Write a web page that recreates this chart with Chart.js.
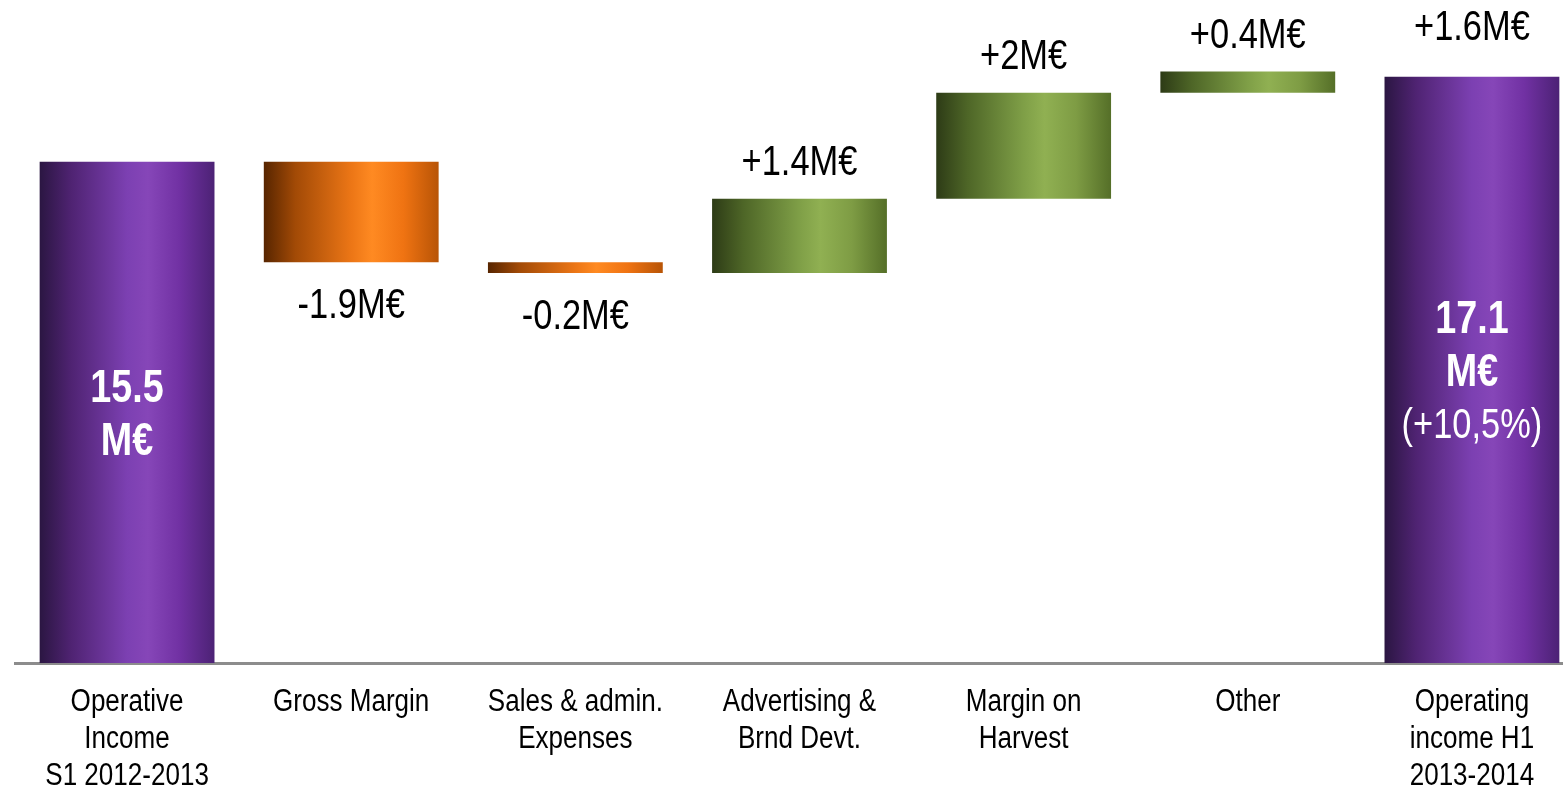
<!DOCTYPE html>
<html>
<head>
<meta charset="utf-8">
<script src="https://cdn.jsdelivr.net/npm/chart.js@4.4.1/dist/chart.umd.min.js"></script>
<style>
  html, body { margin: 0; padding: 0; background: #fff; overflow: hidden; }
  #wrap { position: relative; width: 1590px; height: 790px; }
</style>
</head>
<body>
<div id="wrap"><canvas id="bridge"></canvas></div>
<script>
// Operating income bridge, H1 2012-2013 -> H1 2013-2014 (M€)

const categories = [
  ['Operative', 'Income', 'S1 2012-2013'],
  ['Gross Margin'],
  ['Sales & admin.', 'Expenses'],
  ['Advertising &', 'Brnd Devt.'],
  ['Margin on', 'Harvest'],
  ['Other'],
  ['Operating', 'income H1', '2013-2014']
];

// 'total' bars stand on the axis, 'step' bars float on the running sum
const barKinds = ['total', 'step', 'step', 'step', 'step', 'step', 'total'];
const amounts = [15.5, -1.9, -0.2, 1.4, 2, 0.4, 17.1];
const growthNote = '(+10,5%)';

// No narrow face installed, so Arial-metric text is squeezed horizontally
const FONT = '"Liberation Sans", Arial, sans-serif';
const NARROW = 0.82;

// Horizontal sheen: dark on the left edge, brightest a bit right of centre
const palettes = {
  total: ['#2b1642', '#4f2372', '#7c40b2', '#8646b8', '#7131a3', '#4c2275'],
  down:  ['#572500', '#a24a06', '#ec7616', '#ff8a22', '#ef7312', '#b85406'],
  up:    ['#2d3b16', '#4e6627', '#7f9f47', '#90b052', '#7e9c44', '#556f28']
};
const stops = [0, 0.18, 0.5, 0.62, 0.8, 1];

// Build floating ranges from the amounts
const ranges = [];
let running = 0;
amounts.forEach((v, i) => {
  if (barKinds[i] === 'total') {
    ranges.push([0, v]);
    running = v;
  } else {
    ranges.push([running, running + v]);
    running += v;
  }
});

const BAR_PCT = 0.78;

function barFill(ctx) {
  const chart = ctx.chart;
  const xs = chart.scales.x;
  const i = ctx.dataIndex;
  if (!xs || !chart.chartArea) return '#7c40b2';
  const cx = xs.getPixelForValue(i);
  const half = (xs.width / categories.length) * BAR_PCT / 2;
  let key = 'total';
  if (barKinds[i] === 'step') key = amounts[i] < 0 ? 'down' : 'up';
  const g = chart.ctx.createLinearGradient(cx - half, 0, cx + half, 0);
  palettes[key].forEach((c, k) => g.addColorStop(stops[k], c));
  return g;
}

function fmtDelta(v) {
  return (v < 0 ? '-' : '+') + String(Math.abs(Math.round(v * 10) / 10)) + 'M€';
}

// centred, horizontally condensed text
function narrowText(c, text, x, y, font, color, squeeze) {
  c.save();
  c.font = font;
  c.fillStyle = color;
  c.textAlign = 'center';
  c.textBaseline = 'middle';
  c.translate(x, y);
  c.scale(squeeze || NARROW, 1);
  c.fillText(text, 0, 0);
  c.restore();
}

const barLabels = {
  id: 'barLabels',
  afterDatasetsDraw(chart) {
    const c = chart.ctx;
    const area = chart.chartArea;
    const xs = chart.scales.x;
    const bars = chart.getDatasetMeta(0).data;
    const valueFont = '42px ' + FONT;

    bars.forEach((bar, i) => {
      const top = Math.min(bar.y, bar.base);
      const bottom = Math.max(bar.y, bar.base);
      if (barKinds[i] === 'step') {
        const v = amounts[i];
        if (v < 0) narrowText(c, fmtDelta(v), bar.x, bottom + 44, valueFont, '#000');
        else narrowText(c, fmtDelta(v), bar.x, top - 35, valueFont, '#000');
      } else {
        const mid = (top + Math.min(bottom, area.bottom)) / 2;
        const lines = [String(amounts[i]), 'M€'];
        if (i > 0) lines.push(growthNote);
        const lh = 53;
        const y0 = mid + 3 - (lines.length - 1) * lh / 2;
        lines.forEach((t, k) => {
          const f = (k < 2 ? 'bold 46px ' : '42px ') + FONT;
          narrowText(c, t, bar.x, y0 + k * lh, f, '#fff');
        });
        if (i > 0) {
          narrowText(c, fmtDelta(amounts[i] - amounts[0]), bar.x, top - 48, valueFont, '#000');
        }
      }
    });

    // category names under the axis
    categories.forEach((lines, i) => {
      const x = xs.getPixelForValue(i);
      lines.forEach((t, k) => {
        narrowText(c, t, x, area.bottom + 39 + k * 37, '31px ' + FONT, '#000', 0.84);
      });
    });
  }
};

new Chart(document.getElementById('bridge'), {
  type: 'bar',
  data: {
    labels: categories,
    datasets: [{
      data: ranges,
      backgroundColor: barFill,
      borderWidth: 0,
      borderSkipped: false,
      barPercentage: BAR_PCT,
      categoryPercentage: 1
    }]
  },
  options: {
    responsive: true,
    maintainAspectRatio: false,
    animation: false,
    layout: { padding: { left: 15, right: 6, top: 0, bottom: 0 } },
    plugins: {
      legend: { display: false },
      tooltip: { enabled: false }
    },
    scales: {
      x: {
        grid: { display: false, drawTicks: false },
        border: { display: true, color: '#8c8c8c', width: 3 },
        ticks: { display: false },
        afterFit(scale) { scale.height = 127; }
      },
      y: {
        display: false,
        min: 6.04,
        max: 18.55
      }
    }
  },
  plugins: [barLabels]
});
</script>
</body>
</html>
